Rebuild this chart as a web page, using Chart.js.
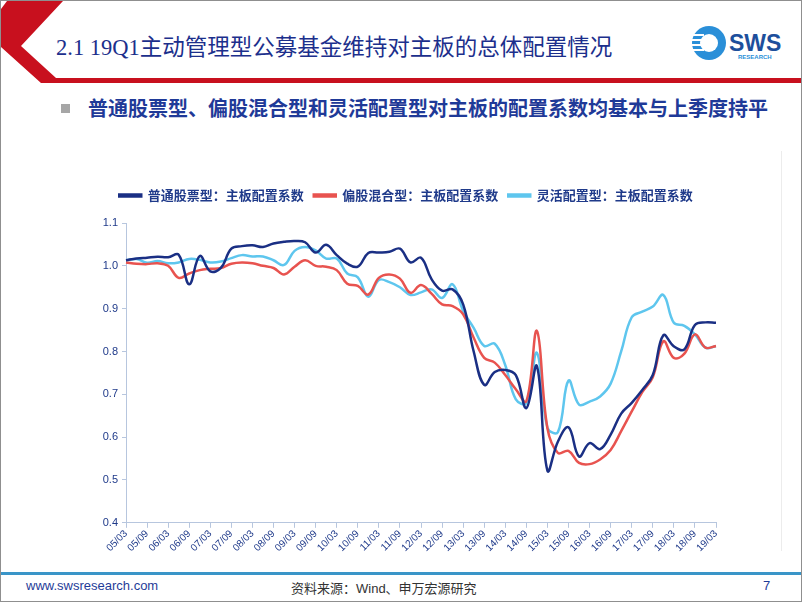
<!DOCTYPE html>
<html>
<head>
<meta charset="utf-8">
<script src="https://cdn.jsdelivr.net/npm/chart.js@4.4.0/dist/chart.umd.min.js"></script>
<style>
  html, body { margin: 0; padding: 0; background: #fff; }
  #slide {
    position: relative; width: 802px; height: 602px; box-sizing: border-box;
    border: 1px solid #8f8f8f; overflow: hidden; background: #fff;
    font-family: "Liberation Sans", "Noto Sans CJK SC", sans-serif;
  }
  #title {
    position: absolute; left: 55px; top: 28px; font-size: 22.5px; color: #1c2f8c;
    font-family: "Liberation Serif", "Noto Sans CJK SC", serif; white-space: nowrap;
  }
  #bullet { position: absolute; left: 60px; top: 103px; width: 9px; height: 9px; background: #a6a6a6; }
  #subtitle {
    position: absolute; left: 87px; top: 92px; font-size: 20px; font-weight: bold; color: #1f3a98;
    font-family: "Noto Sans CJK SC", sans-serif; white-space: nowrap;
  }
  #chartBox { position: absolute; left: 95px; top: 178px; width: 630px; height: 375px; }
  #rightLine { position: absolute; left: 780px; top: 150px; width: 1px; height: 400px; background: #ececec; }
  #footLine { position: absolute; left: 0; top: 571px; width: 802px; height: 3px; background: #3a95c8; }
  .foot { position: absolute; top: 577px; font-size: 13px; white-space: nowrap; }
</style>
</head>
<body>
<div id="slide">
  <svg width="802" height="90" style="position:absolute;left:0;top:0">
    <polygon points="6,0 62,0 20,45 55,77 802,77 802,82 40,82 0,46 0,8" fill="#c8101e"/>
    <circle cx="708" cy="42" r="17" fill="#2a8fd8"/>
    <circle cx="708" cy="42" r="9" fill="#ffffff"/>
    <rect x="691" y="33" width="12" height="2" fill="#ffffff"/>
    <rect x="691" y="38" width="12" height="2" fill="#ffffff"/>
    <rect x="691" y="43" width="12" height="2" fill="#ffffff"/>
    <rect x="691" y="48" width="12" height="2" fill="#ffffff"/>
    <text x="728" y="50" font-family="Liberation Sans" font-weight="bold" font-size="23" fill="#1d4f9c">SWS</text>
    <text x="737" y="58" font-family="Liberation Sans" font-weight="bold" font-size="6" fill="#2a8fd8">RESEARCH</text>
  </svg>
  <div id="title">2.1 19Q1主动管理型公募基金维持对主板的总体配置情况</div>
  <div id="bullet"></div>
  <div id="subtitle">普通股票型、偏股混合型和灵活配置型对主板的配置系数均基本与上季度持平</div>
  <div id="rightLine"></div>
  <div id="chartBox"><canvas id="chartCanvas" width="630" height="375"></canvas></div>
  <div id="footLine"></div>
  <div class="foot" style="left:25px;color:#1f3c98">www.swsresearch.com</div>
  <div class="foot" style="left:290px;color:#333">资料来源：Wind、申万宏源研究</div>
  <div class="foot" style="left:762px;color:#1f3c98">7</div>
</div>
<script>
// quarters 2005Q1 .. 2019Q1
const quarters = [
  '05/03','05/06','05/09','05/12','06/03','06/06','06/09','06/12',
  '07/03','07/06','07/09','07/12','08/03','08/06','08/09','08/12',
  '09/03','09/06','09/09','09/12','10/03','10/06','10/09','10/12',
  '11/03','11/06','11/09','11/12','12/03','12/06','12/09','12/12',
  '13/03','13/06','13/09','13/12','14/03','14/06','14/09','14/12',
  '15/03','15/06','15/09','15/12','16/03','16/06','16/09','16/12',
  '17/03','17/06','17/09','17/12','18/03','18/06','18/09','18/12','19/03'
];

const seriesNames = ['普通股票型：主板配置系数', '偏股混合型：主板配置系数', '灵活配置型：主板配置系数'];

const stockFund = [
  1.013, 1.017, 1.019, 1.021, 1.020, 1.026, 0.957, 1.023,
  0.987, 0.995, 1.040, 1.046, 1.048, 1.044, 1.052, 1.056,
  1.058, 1.055, 1.031, 1.049, 1.025, 1.005, 0.998, 1.030,
  1.031, 1.033, 1.040, 1.008, 1.019, 0.969, 0.942, 0.945,
  0.910, 0.800, 0.722, 0.752, 0.757, 0.745, 0.668, 0.766,
  0.522, 0.590, 0.623, 0.555, 0.586, 0.572, 0.606, 0.655,
  0.680, 0.710, 0.745, 0.838, 0.812, 0.805, 0.862, 0.868, 0.867
];

const hybridFund = [
  1.008, 1.005, 1.004, 1.006, 1.000, 0.972, 0.982, 0.990,
  0.993, 0.995, 1.005, 1.008, 1.006, 1.000, 0.995, 0.980,
  0.998, 1.013, 1.000, 0.998, 0.990, 0.958, 0.953, 0.933,
  0.972, 0.980, 0.970, 0.937, 0.955, 0.935, 0.910, 0.906,
  0.887, 0.832, 0.785, 0.774, 0.745, 0.712, 0.684, 0.848,
  0.621, 0.563, 0.568, 0.540, 0.537, 0.548, 0.570, 0.614,
  0.660, 0.705, 0.740, 0.824, 0.785, 0.795, 0.840, 0.809, 0.813
];

const flexibleFund = [
  1.013, 1.016, 1.007, 1.011, 1.006, 1.008, 1.016, 1.014,
  1.008, 1.010, 1.018, 1.025, 1.022, 1.022, 1.013, 1.002,
  1.035, 1.044, 1.036, 1.017, 1.017, 0.982, 0.973, 0.928,
  0.967, 0.962, 0.950, 0.932, 0.938, 0.945, 0.925, 0.957,
  0.895, 0.855, 0.813, 0.818, 0.768, 0.688, 0.680, 0.797,
  0.622, 0.612, 0.732, 0.676, 0.683, 0.695, 0.725, 0.800,
  0.880, 0.893, 0.905, 0.932, 0.867, 0.860, 0.840, 0.809, 0.812
];

const yMin = 0.4;
const yMax = 1.1;
const yStep = 0.1;

const lineColors = ['#1a2f84', '#e8534f', '#5ec6ee'];
const axisColor = '#b7c6de';
const textColor = '#1f3a8a';

function makeSet(i, values) {
  return {
    label: seriesNames[i],
    data: values,
    borderColor: lineColors[i],
    backgroundColor: lineColors[i],
    borderWidth: 2.5,
    pointRadius: 0,
    tension: 0.4,
    fill: false
  };
}

// extra room between the legend and the plot
const legendGap = {
  id: 'legendGap',
  beforeInit(chart) {
    const fit = chart.legend.fit;
    chart.legend.fit = function () {
      fit.bind(chart.legend)();
      this.height += 11;
    };
  }
};

const ctx = document.getElementById('chartCanvas').getContext('2d');
const myChart = new Chart(ctx, {
  type: 'line',
  data: {
    labels: quarters,
    datasets: [makeSet(0, stockFund), makeSet(1, hybridFund), makeSet(2, flexibleFund)]
  },
  plugins: [legendGap],
  options: {
    responsive: false,
    animation: false,
    layout: { padding: { left: 0, right: 10, top: 0, bottom: 0 } },
    plugins: {
      tooltip: { enabled: false },
      legend: {
        position: 'top',
        labels: {
          boxWidth: 22,
          boxHeight: 2,
          padding: 10,
          color: textColor,
          font: { family: '"Noto Sans CJK SC", sans-serif', size: 13, weight: 'bold' }
        }
      }
    },
    scales: {
      x: {
        border: { color: axisColor, width: 1 },
        grid: {
          drawOnChartArea: false,
          tickLength: 5,
          tickColor: c => (c.index % 2 === 0 ? axisColor : 'rgba(0,0,0,0)')
        },
        ticks: {
          autoSkip: false,
          minRotation: 45,
          maxRotation: 45,
          padding: 0,
          color: textColor,
          font: { family: '"Liberation Sans", sans-serif', size: 10 },
          callback: function (v, i) { return i % 2 === 0 ? quarters[i] : ''; }
        }
      },
      y: {
        min: yMin,
        max: yMax,
        border: { color: axisColor, width: 1 },
        grid: { drawOnChartArea: false, tickLength: 4, tickColor: axisColor },
        ticks: {
          stepSize: yStep,
          padding: 4,
          color: textColor,
          font: { family: '"Liberation Sans", sans-serif', size: 11 },
          callback: v => v.toFixed(1)
        },
        afterFit: s => { s.width = 30; }
      }
    }
  }
});
</script>
</body>
</html>
